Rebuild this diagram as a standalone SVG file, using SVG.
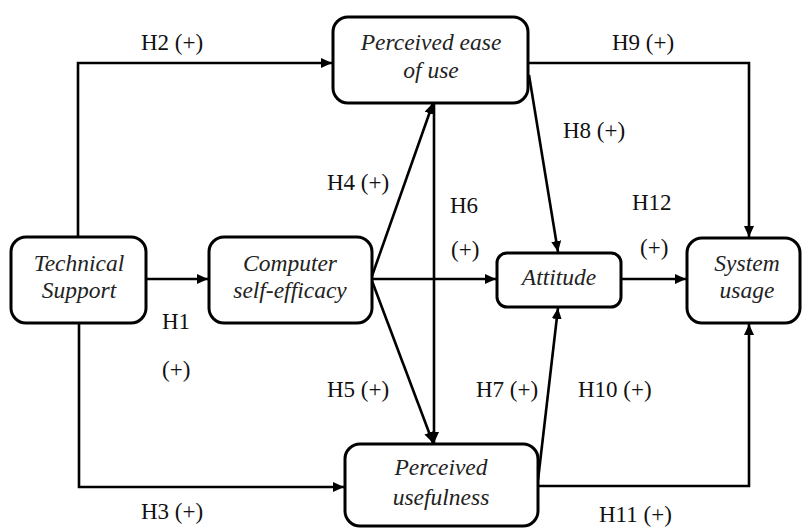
<svg xmlns="http://www.w3.org/2000/svg" width="803" height="528" viewBox="0 0 803 528">
<defs>
<style>
.box{fill:#fff;stroke:#000;stroke-width:3}
.n{font-family:'Liberation Serif','Times New Roman',serif;font-style:italic;font-size:23.5px;text-anchor:middle;fill:#222}
.l{font-family:'Liberation Serif','Times New Roman',serif;font-size:23px;fill:#111}
.c{fill:none;stroke:#000;stroke-width:2.6}
</style>
<marker id="a" markerUnits="userSpaceOnUse" markerWidth="12" markerHeight="10" refX="11" refY="5" orient="auto">
<path d="M0,0 L11,5 L0,10 Z" fill="#000"/>
</marker>
</defs>
<rect width="803" height="528" fill="#fff"/>
<g id="connectors">
<polyline class="c" points="78,237 78,63 332,63" marker-end="url(#a)"/>
<polyline class="c" points="79,323 79,487 344,487" marker-end="url(#a)"/>
<line class="c" x1="146" y1="279" x2="208" y2="279" marker-end="url(#a)"/>
<line class="c" x1="372" y1="276" x2="433" y2="103" marker-end="url(#a)"/>
<line class="c" x1="372" y1="281" x2="433" y2="443" marker-end="url(#a)"/>
<line class="c" x1="434" y1="103" x2="434" y2="443" marker-end="url(#a)"/>
<line class="c" x1="372" y1="279" x2="496" y2="279" marker-end="url(#a)"/>
<line class="c" x1="529" y1="75" x2="558" y2="252" marker-end="url(#a)"/>
<polyline class="c" points="528,63 749,63 749,237" marker-end="url(#a)"/>
<line class="c" x1="621" y1="279" x2="686" y2="279" marker-end="url(#a)"/>
<line class="c" x1="538" y1="480" x2="558" y2="308" marker-end="url(#a)"/>
<polyline class="c" points="538,486 749,486 749,324" marker-end="url(#a)"/>
</g>
<g id="technical-support">
<rect class="box" x="11" y="237" width="135" height="86" rx="15"/>
<text class="n" x="79" y="271">Technical</text>
<text class="n" x="79" y="298">Support</text>
</g>
<g id="computer-self-efficacy">
<rect class="box" x="209" y="237" width="163" height="86" rx="15"/>
<text class="n" x="290" y="271">Computer</text>
<text class="n" x="290" y="298">self-efficacy</text>
</g>
<g id="perceived-ease-of-use">
<rect class="box" x="333" y="17" width="195" height="86" rx="15"/>
<text class="n" x="431" y="50">Perceived ease</text>
<text class="n" x="431" y="78">of use</text>
</g>
<g id="attitude">
<rect class="box" x="497" y="253" width="124" height="54" rx="10"/>
<text class="n" x="559" y="285">Attitude</text>
</g>
<g id="system-usage">
<rect class="box" x="687" y="238" width="113" height="85" rx="15"/>
<text class="n" x="747" y="271">System</text>
<text class="n" x="747" y="298">usage</text>
</g>
<g id="perceived-usefulness">
<rect class="box" x="345" y="444" width="193" height="82" rx="15"/>
<text class="n" x="441" y="475">Perceived</text>
<text class="n" x="441" y="505">usefulness</text>
</g>
<g id="labels">
<text class="l" x="141" y="50">H2 (+)</text>
<text class="l" x="612" y="50">H9 (+)</text>
<text class="l" x="563" y="138">H8 (+)</text>
<text class="l" x="327" y="190">H4 (+)</text>
<text class="l" x="450" y="213">H6</text>
<text class="l" x="451" y="257">(+)</text>
<text class="l" x="632" y="210">H12</text>
<text class="l" x="640" y="255">(+)</text>
<text class="l" x="162" y="329">H1</text>
<text class="l" x="162" y="377">(+)</text>
<text class="l" x="327" y="397">H5 (+)</text>
<text class="l" x="476" y="397">H7 (+)</text>
<text class="l" x="578" y="397">H10 (+)</text>
<text class="l" x="141" y="519">H3 (+)</text>
<text class="l" x="599" y="522">H11 (+)</text>
</g>
</svg>
